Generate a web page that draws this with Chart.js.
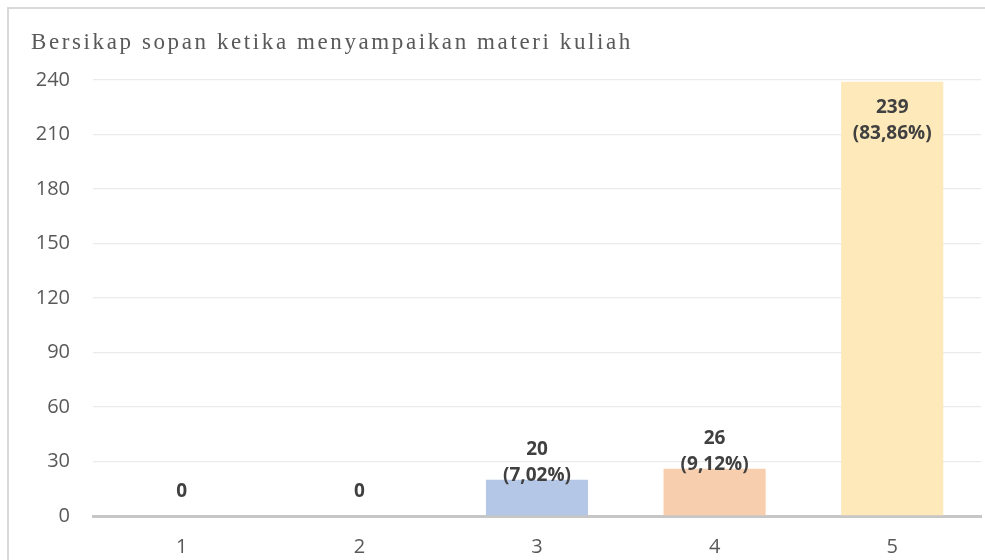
<!DOCTYPE html>
<html>
<head>
<meta charset="utf-8">
<script src="https://cdn.jsdelivr.net/npm/chart.js@4.4.1/dist/chart.umd.min.js"></script>
<style>
  html, body { margin: 0; padding: 0; background: #fff; }
  #wrap { width: 985px; height: 560px; position: relative; }
</style>
</head>
<body>
<div id="wrap"><canvas id="chart" width="985" height="560"></canvas></div>
<script>
/* Skala 1-5: jumlah responden per skor */
const chartTitle = 'Bersikap sopan ketika menyampaikan materi kuliah';
const categories = ['1', '2', '3', '4', '5'];
const counts = [0, 0, 20, 26, 239];
const barColors = ['#B4C7E7', '#B4C7E7', '#B4C7E7', '#F8CFAE', '#FDE9B9'];
const yMax = 240;
const yStep = 30;

const total = counts.reduce((a, b) => a + b, 0);

function pctText(v) {
    return '(' + (v / total * 100).toFixed(2).replace('.', ',') + '%)';
}

// judul + bingkai luar
const frameAndTitle = {
    id: 'frameAndTitle',
    beforeDraw(chart) {
        const ctx = chart.ctx;
        ctx.save();
        ctx.strokeStyle = '#D9D9D9';
        ctx.lineWidth = 2;
        ctx.strokeRect(8, 8, 1000, 600);
        ctx.font = '23px "Liberation Serif"';
        ctx.letterSpacing = '2.6px';
        ctx.fillStyle = '#595959';
        ctx.textAlign = 'left';
        ctx.textBaseline = 'alphabetic';
        ctx.fillText(chartTitle, 31, 49);
        ctx.restore();
    }
};

// label nilai + persentase di atas batang
const valueLabels = {
    id: 'valueLabels',
    afterDatasetsDraw(chart) {
        const { ctx, chartArea } = chart;
        const meta = chart.getDatasetMeta(0);
        ctx.save();
        ctx.font = 'bold 19px "Open Sans"';
        ctx.fillStyle = '#404040';
        ctx.textAlign = 'center';
        ctx.textBaseline = 'middle';
        meta.data.forEach((bar, i) => {
            const v = counts[i];
            if (v === 0) {
                ctx.fillText('0', bar.x, bar.y - 24);
                return;
            }
            let y1 = bar.y - 30;
            if (y1 < chartArea.top + 26) y1 = bar.y + 26; // tidak muat di atas -> masuk ke batang
            ctx.fillText(String(v), bar.x, y1);
            ctx.fillText(pctText(v), bar.x, y1 + 26);
        });
        ctx.restore();
    }
};

new Chart(document.getElementById('chart'), {
    type: 'bar',
    data: {
        labels: categories,
        datasets: [{
            data: counts,
            backgroundColor: barColors,
            borderWidth: 0,
            categoryPercentage: 1,
            barPercentage: 0.575
        }]
    },
    options: {
        responsive: false,
        animation: false,
        layout: { padding: { left: 0, right: 4, top: 80, bottom: 0 } },
        plugins: {
            legend: { display: false },
            title: { display: false },
            tooltip: { enabled: false }
        },
        scales: {
            x: {
                grid: { display: false, drawTicks: false },
                border: { display: true, color: '#C6C6C6', width: 3 },
                ticks: { color: '#595959', font: { family: 'Open Sans', size: 20 }, padding: 19 },
                afterFit(scale) { scale.height = 44; }
            },
            y: {
                min: 0,
                max: yMax,
                ticks: { stepSize: yStep, color: '#595959', font: { family: 'Open Sans', size: 20 }, padding: 23 },
                grid: { color: '#EBEBEB', lineWidth: 1.3, drawTicks: false },
                border: { display: false },
                afterFit(scale) { scale.width = 93; }
            }
        }
    },
    plugins: [frameAndTitle, valueLabels]
});
</script>
</body>
</html>
